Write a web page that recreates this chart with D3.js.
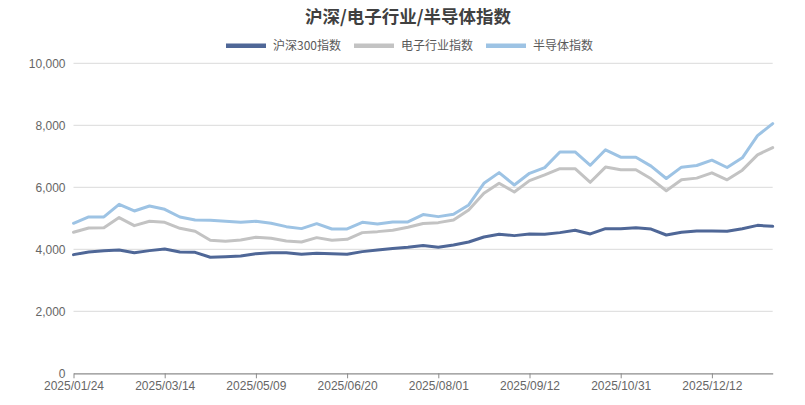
<!DOCTYPE html>
<html><head><meta charset="utf-8">
<script src="https://cdn.jsdelivr.net/npm/d3@7"></script>
<style>
html,body{margin:0;padding:0;background:#fff;}
svg{display:block;}
</style>
</head><body>
<svg id="c" width="805" height="405"></svg>
<script>
const dates = ["2025/01/24","2025/02/07","2025/02/14","2025/02/21","2025/02/28","2025/03/07","2025/03/14",
"2025/03/21","2025/03/28","2025/04/11","2025/04/25","2025/04/30","2025/05/09",
"2025/05/16","2025/05/23","2025/05/30","2025/06/06","2025/06/13","2025/06/20",
"2025/06/27","2025/07/04","2025/07/11","2025/07/18","2025/07/25","2025/08/01",
"2025/08/08","2025/08/15","2025/08/22","2025/08/29","2025/09/05","2025/09/12",
"2025/09/19","2025/09/26","2025/10/10","2025/10/17","2025/10/24","2025/10/31",
"2025/11/07","2025/11/14","2025/11/21","2025/11/28","2025/12/05","2025/12/12",
"2025/12/19","2025/12/26","2025/12/31","2026/01/09"];

const hs300 = [3828,3914,3957,3978,3892,3957,4011,3914,3903,3742,3763,3785,3860,3892,3892,3839,3871,3860,3839,3925,3978,4022,4065,4125,4065,4140,4237,4398,4484,4441,4495,4484,4538,4613,4495,4665,4665,4697,4654,4461,4547,4590,4590,4579,4665,4772,4740];
const electronics = [4548,4688,4699,5022,4763,4903,4871,4677,4581,4290,4258,4301,4387,4355,4269,4237,4376,4290,4323,4538,4570,4613,4710,4830,4860,4946,5269,5806,6129,5849,6215,6398,6602,6602,6161,6652,6564,6564,6274,5889,6242,6296,6467,6242,6553,7046,7282];
const semis = [4839,5043,5043,5452,5237,5398,5290,5043,4946,4935,4903,4871,4903,4839,4731,4667,4828,4656,4656,4871,4817,4882,4882,5120,5054,5129,5430,6129,6473,6075,6452,6634,7140,7140,6710,7210,6971,6971,6682,6285,6650,6703,6875,6639,6950,7668,8054];

const seriesNames = ["沪深300指数","电子行业指数","半导体指数"];
const yTicks = [0,2000,4000,6000,8000,10000];
const title = "沪深/电子行业/半导体指数";

const colors = ["#4f6797","#c3c3c3","#9dc3e4"];
const allSeries = [hs300, electronics, semis];

const svg = d3.select("#c");
const L = 73.5, R = 772.7, T = 63.3, B = 373.3;

const x = d3.scalePoint().domain(dates).range([L, R]);
const y = d3.scaleLinear().domain([0, 10000]).range([B, T]);

// gridlines
svg.append("g").selectAll("line").data(yTicks.filter(d => d > 0)).join("line")
  .attr("x1", L).attr("x2", R)
  .attr("y1", d => y(d)).attr("y2", d => y(d))
  .attr("stroke", "#dadada").attr("stroke-width", 1);

// y axis labels
const yAxis = d3.axisLeft(y).tickValues(yTicks).tickFormat(d3.format(",")).tickSize(0).tickPadding(8);
const ya = svg.append("g").attr("transform", `translate(${L},0)`).call(yAxis);
ya.select(".domain").remove();
ya.selectAll("text").attr("font-family", "'Liberation Sans', Arial, sans-serif")
  .attr("font-size", 12).attr("fill", "#666");

// x axis
const xAxis = d3.axisBottom(x)
  .tickValues(dates.filter((d, i) => i % 6 === 0))
  .tickSize(5).tickSizeOuter(0).tickPadding(3);
const xa = svg.append("g").attr("transform", `translate(0,${B})`).call(xAxis);
xa.select(".domain").attr("stroke", "#8c8c8c").attr("stroke-width", 1.2);
xa.selectAll(".tick line").attr("stroke", "#8c8c8c");
xa.selectAll("text").attr("font-family", "'Liberation Sans', Arial, sans-serif")
  .attr("font-size", 12).attr("fill", "#666");

// lines
const line = d3.line().x((d, i) => x(dates[i])).y(d => y(d));
svg.append("g").selectAll("path").data(allSeries).join("path")
  .attr("d", d => line(d))
  .attr("fill", "none")
  .attr("stroke", (d, i) => colors[i])
  .attr("stroke-width", 3)
  .attr("stroke-linejoin", "round")
  .attr("stroke-linecap", "round");

// title
svg.append("text").attr("x", 408).attr("y", 23).attr("text-anchor", "middle")
  .attr("font-family", "'Noto Sans CJK SC', sans-serif").attr("font-weight", "bold")
  .attr("font-size", 17.5).attr("fill", "#404040").text(title);

// legend
const legendPos = [226, 354, 486];
const lg = svg.append("g");
seriesNames.forEach((n, i) => {
  lg.append("rect").attr("x", legendPos[i]).attr("y", 43.5).attr("width", 40).attr("height", 4.5)
    .attr("fill", colors[i]);
  lg.append("text").attr("x", legendPos[i] + 47).attr("y", 50.3)
    .attr("font-family", "'Noto Sans CJK SC', sans-serif").attr("font-size", 12)
    .attr("fill", "#595959").text(n);
});
</script>
</body></html>
